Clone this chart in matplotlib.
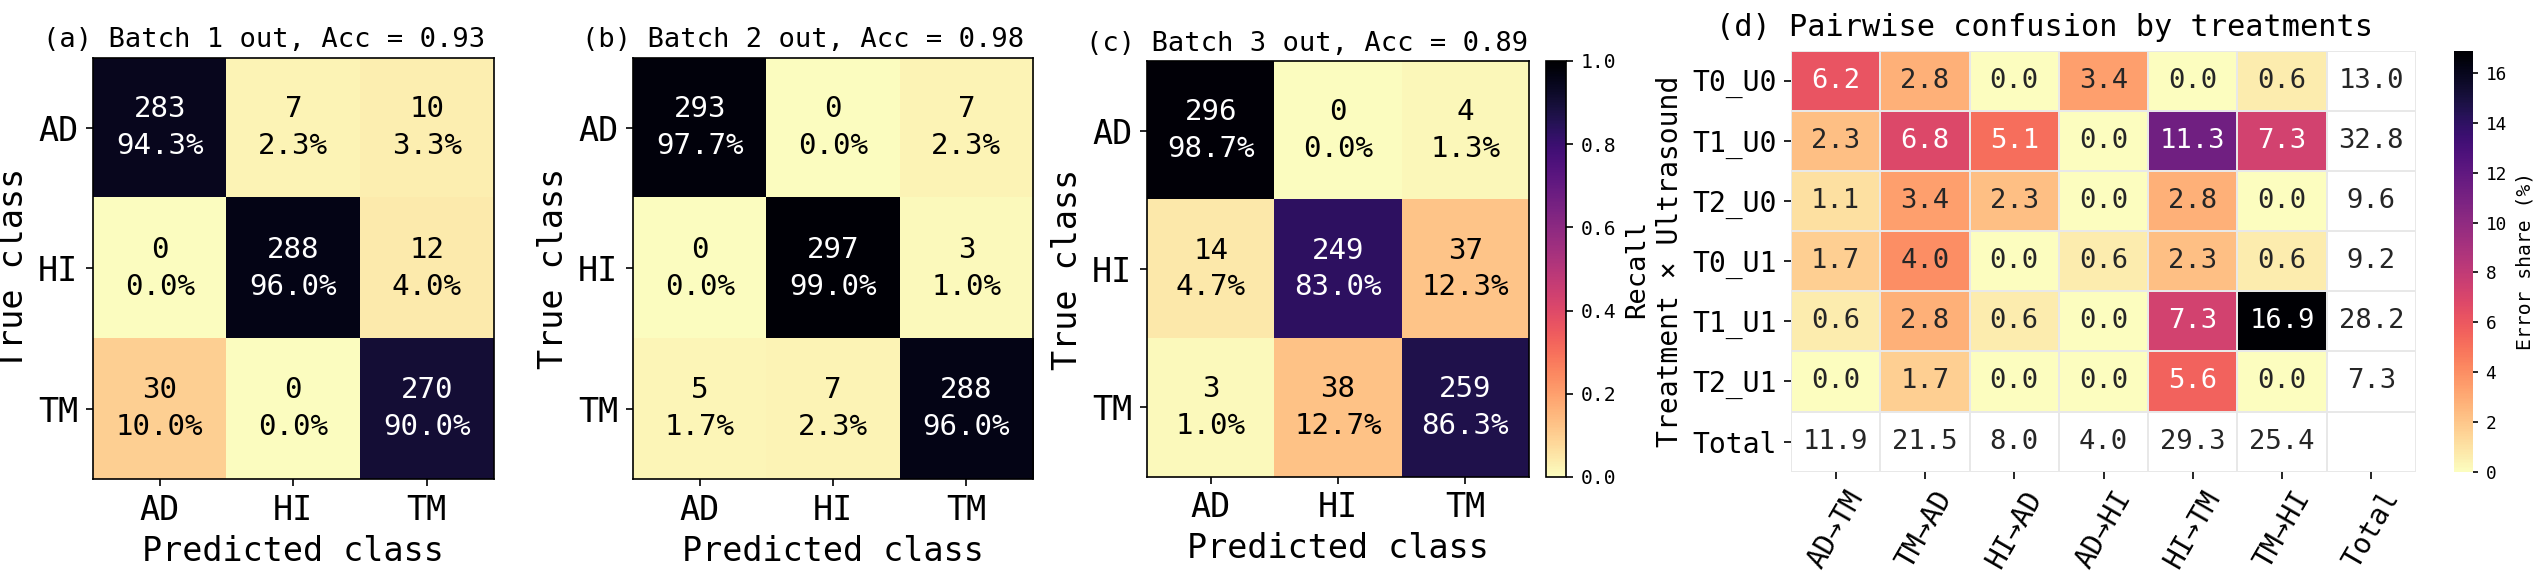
import numpy as np
import matplotlib.pyplot as plt

plt.rcParams['font.family'] = 'DejaVu Sans Mono'

classes = ['AD', 'HI', 'TM']
batch1 = [[283, 7, 10], [0, 288, 12], [30, 0, 270]]
batch2 = [[293, 0, 7], [0, 297, 3], [5, 7, 288]]
batch3 = [[296, 0, 4], [14, 249, 37], [3, 38, 259]]

groups = ['T0_U0', 'T1_U0', 'T2_U0', 'T0_U1', 'T1_U1', 'T2_U1']
pairs = ['AD→TM', 'TM→AD', 'HI→AD', 'AD→HI', 'HI→TM', 'TM→HI']
share = [[6.2, 2.8, 0.0, 3.4, 0.0, 0.6],
         [2.3, 6.8, 5.1, 0.0, 11.3, 7.3],
         [1.1, 3.4, 2.3, 0.0, 2.8, 0.0],
         [1.7, 4.0, 0.0, 0.6, 2.3, 0.6],
         [0.6, 2.8, 0.6, 0.0, 7.3, 16.9],
         [0.0, 1.7, 0.0, 0.0, 5.6, 0.0]]

W, H = 2538, 584
fig = plt.figure(figsize=(W / 150, H / 150), dpi=150)


def box(l, t, r, b):
    return [l / W, 1 - b / H, (r - l) / W, (b - t) / H]


def rel_lum(c):
    rgb = np.array(c[:3])
    rgb = np.where(rgb <= 0.03928, rgb / 12.92, ((rgb + 0.055) / 1.055) ** 2.4)
    return 0.2126 * rgb[0] + 0.7152 * rgb[1] + 0.0722 * rgb[2]


# (a)-(c) leave-one-batch-out confusion matrices
panels = [(batch1, '(a)', 1, box(93, 57.5, 493.5, 479), 0.427),
          (batch2, '(b)', 2, box(633, 57.5, 1033, 479), 0.425),
          (batch3, '(c)', 3, box(1147, 61.4, 1529, 476.5), 0.42)]

for cm, tag, b, pos, tx in panels:
    ax = fig.add_axes(pos)
    cm = np.array(cm)
    rec = cm / cm.sum(axis=1, keepdims=True)
    acc = np.trace(cm) / cm.sum()
    im = ax.imshow(rec, cmap='magma_r', vmin=0, vmax=1, aspect='auto')
    for i in range(3):
        for j in range(3):
            ax.text(j, i, f"{cm[i, j]}\n{rec[i, j] * 100:.1f}%",
                    ha='center', va='center', fontsize=14, linespacing=1.4,
                    color='white' if rec[i, j] > 0.5 else 'black')
    ax.set_xticks(range(3))
    ax.set_yticks(range(3))
    ax.set_xticklabels(classes, fontsize=16)
    ax.set_yticklabels(classes, fontsize=16)
    ax.set_xlabel('Predicted class', fontsize=16)
    ax.set_ylabel('True class', fontsize=16)
    ax.set_title(f"{tag} Batch {b} out, Acc = {acc:.2f}", fontsize=13, x=tx, pad=5)

cax = fig.add_axes(box(1546, 61, 1566, 477))
cb = fig.colorbar(im, cax=cax)
cb.set_ticks([0, 0.2, 0.4, 0.6, 0.8, 1.0])
cb.ax.tick_params(labelsize=9.5)
cb.set_label('Recall', fontsize=13)

# (d) pairwise confusion by treatment group
vals = np.array(share)
row_tot = vals.sum(axis=1)
col_tot = vals.sum(axis=0)
n = len(groups)
grid = np.full((n + 1, n + 1), np.nan)
grid[:n, :n] = vals

cmap = plt.get_cmap('magma_r').copy()
cmap.set_bad('white')
axd = fig.add_axes(box(1791, 50.7, 2416, 471.7))
mesh = axd.pcolormesh(np.ma.masked_invalid(grid), cmap=cmap, vmin=0, vmax=vals.max(),
                      edgecolors='#e8e8e8', linewidth=0.8)
axd.set_xlim(0, n + 1)
axd.set_ylim(n + 1, 0)
for s in axd.spines.values():
    s.set_visible(False)

for i in range(n):
    for j in range(n):
        c = cmap(vals[i, j] / vals.max())
        axd.text(j + 0.5, i + 0.5, f"{vals[i, j]:.1f}", ha='center', va='center', fontsize=13,
                 color='#262626' if rel_lum(c) > 0.408 else 'white')
    axd.text(n + 0.5, i + 0.5, f"{row_tot[i]:.1f}", ha='center', va='center',
             fontsize=13, color='#262626')
    axd.text(i + 0.5, n + 0.5, f"{col_tot[i]:.1f}", ha='center', va='center',
             fontsize=13, color='#262626')

axd.set_xticks(np.arange(n + 1) + 0.5)
axd.set_yticks(np.arange(n + 1) + 0.5)
axd.set_xticklabels(pairs + ['Total'], rotation=60, fontsize=13.5)
axd.set_yticklabels(groups + ['Total'], fontsize=13.5)
axd.set_ylabel('Treatment × Ultrasound', fontsize=13.5)
axd.set_title('(d) Pairwise confusion by treatments', fontsize=14.5, x=0.406, pad=7)

caxd = fig.add_axes(box(2454, 50.7, 2473, 471.7))
cbd = fig.colorbar(mesh, cax=caxd)
cbd.outline.set_visible(False)
cbd.set_ticks(range(0, 17, 2))
cbd.ax.tick_params(labelsize=8.5, length=2.5)
cbd.set_label('Error share (%)', fontsize=9.5)

fig.savefig('out.png', dpi=150)
